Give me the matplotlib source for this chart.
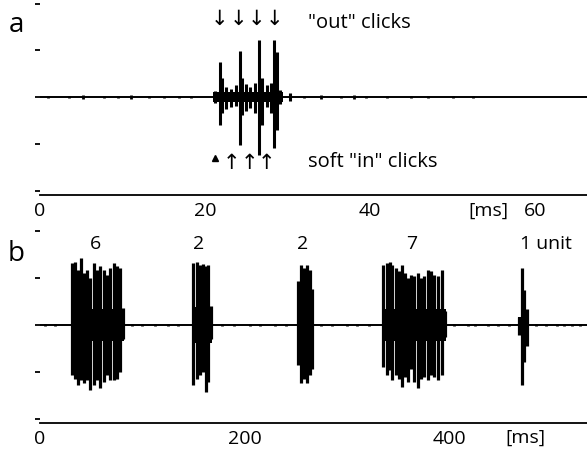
import matplotlib
matplotlib.use("Agg")
import matplotlib.pyplot as plt

plt.rcParams['font.family'] = ['Open Sans', 'DejaVu Sans']

# ---------------- Panel a data (time in ms, amplitude in arbitrary units) -------------
a_xticks = [0, 20, 40, 60]
a_xticklabels = ['0', '20', '40', '60']
a_click_t = [21.2, 21.8, 22.1, 22.6, 23.2, 23.7, 24.2, 24.5, 25.0, 25.5, 26.0, 26.5, 26.9, 27.5, 28.0, 28.4, 28.7, 29.1, 30.3]
a_click_top = [0.12, 0.75, 0.40, 0.22, 0.18, 0.25, 0.99, 0.40, 0.28, 0.21, 0.30, 1.21, 0.40, 0.25, 0.30, 1.21, 0.96, 0.15, 0.08]
a_click_bot = [-0.12, -0.60, -0.35, -0.25, -0.22, -0.20, -1.03, -0.39, -0.30, -0.24, -0.35, -1.24, -0.60, -0.22, -0.35, -1.09, -0.70, -0.15, -0.08]
a_core_t = [21.0, 29.4]
a_core_amp = 0.10
a_noise_t = [1.0, 3.5, 5.2, 7.8, 9.5, 11.0, 13.2, 15.0, 16.8, 18.3, 32.0, 34.0, 36.5, 38.0, 39.5, 42.0, 45.0, 47.0, 50.0, 52.5]
a_noise_amp = [0.03, 0.025, 0.035, 0.03, 0.025, 0.035, 0.03, 0.025, 0.03, 0.025, 0.03, 0.035, 0.03, 0.035, 0.03, 0.025, 0.03, 0.025, 0.03, 0.025]
a_out_arrow_t = [21.7, 24.1, 26.2, 28.4]
a_in_arrow_t = [23.2, 25.4, 27.4]
a_in_head_t = [21.2]

# ---------------- Panel b data -------------
b_xticks = [0, 200, 400]
b_xticklabels = ['0', '200', '400']
b_spike_t = [31.3, 34.5, 37.1, 40.4, 43.0, 45.9, 49.2, 52.5, 55.7, 59.0, 62.2, 65.5, 68.8, 72.0, 75.3, 78.5, 81.1,
             149.9, 153.2, 156.4, 159.6, 162.0, 164.5, 167.2,
             252.2, 254.8, 258.1, 261.3, 263.9, 265.9,
             335.6, 338.9, 342.1, 344.4, 347.7, 350.9, 353.6, 356.8, 360.0, 362.7, 365.9, 369.2, 372.4, 375.7,
             379.0, 382.2, 385.4, 388.8, 392.7, 395.9,
             468.2, 470.8, 473.4, 475.7]
b_spike_top = [1.32, 1.35, 1.18, 1.42, 1.11, 1.18, 1.00, 1.32, 1.18, 1.25, 1.18, 1.07, 1.21, 1.32, 1.25, 1.21, 0.37,
               1.32, 1.35, 1.28, 1.30, 1.25, 1.28, 0.40,
               0.93, 1.28, 1.21, 1.28, 1.18, 0.76,
               1.28, 1.32, 1.35, 1.28, 1.21, 1.14, 1.28, 1.11, 1.00, 1.07, 1.04, 1.11, 1.00, 1.04,
               1.18, 1.14, 1.07, 1.04, 1.18, 0.30,
               0.17, 1.21, 0.75, 0.33]
b_spike_bot = [-1.07, -1.14, -1.28, -1.17, -1.24, -1.17, -1.38, -1.28, -1.17, -1.35, -1.21, -1.07, -1.17, -1.17, -1.14, -1.00, -0.29,
               -1.28, -1.14, -1.07, -1.00, -1.42, -1.21, -0.30,
               -0.86, -1.24, -1.14, -1.24, -1.07, -0.93,
               -0.89, -1.07, -0.96, -1.17, -1.07, -1.14, -1.31, -1.11, -1.21, -0.93, -1.21, -1.35, -1.14, -1.11,
               -1.17, -1.07, -1.11, -1.17, -1.07, -0.26,
               -0.22, -1.28, -0.79, -0.44]
b_core_start = [30.0, 149.0, 251.0, 334.5, 467.0]
b_core_end = [82.0, 168.0, 267.0, 397.0, 477.0]
b_core_amp = [0.34, 0.38, 0.38, 0.34, 0.18]
b_noise_t = [5, 15, 90, 100, 112, 125, 135, 178, 190, 205, 215, 230, 240, 275, 285, 300, 310, 322,
             405, 418, 425, 438, 448, 458, 485, 495, 505, 512, 520, 528]
b_noise_amp = [0.03] * len(b_noise_t)
b_counts = ['6', '2', '2', '7', '1 unit']
b_count_t = [54.7, 155.4, 257.0, 363.6, 494.6]

# ---------------- Figure -------------
W, H = 587, 455
fig = plt.figure(figsize=(W / 100, H / 100), dpi=100)
ax_a = fig.add_axes([40 / W, 1 - 195 / H, 547 / W, 195 / H])
ax_b = fig.add_axes([40 / W, 1 - 423 / H, 547 / W, 197 / H])

def style(ax):
    for s in ['left', 'top', 'right']:
        ax.spines[s].set_visible(False)
    ax.spines['bottom'].set_linewidth(1.3)
    ax.set_yticks([-2, -1, 0, 1, 2])
    ax.set_yticklabels([])
    ax.tick_params(axis='y', length=3.5, width=1.3, direction='out')
    ax.tick_params(axis='x', length=0, pad=5, labelsize=14)

# Panel a
style(ax_a)
ax_a.set_xlim(0, 547 / 8.25)
ax_a.set_ylim(-2.096, 2.075)
ax_a.plot([0, 547 / 8.25], [0, 0], color='black', lw=1.4, zorder=2)
ax_a.vlines(a_noise_t, [-v for v in a_noise_amp], a_noise_amp, color='black', lw=2.0)
ax_a.fill_between(a_core_t, [-a_core_amp] * 2, [a_core_amp] * 2, color='black', lw=0)
ax_a.vlines(a_click_t, a_click_bot, a_click_top, color='black', lw=2.2)
ax_a.set_xticks(a_xticks)
ax_a.set_xticklabels(a_xticklabels)
for t in a_out_arrow_t:
    ax_a.text(t, 1.66, '\u2193', ha='center', va='center', fontsize=15, family=['DejaVu Sans'])
for t in a_in_arrow_t:
    ax_a.text(t, -1.42, '\u2191', ha='center', va='center', fontsize=15, family=['DejaVu Sans'])
ax_a.plot(a_in_head_t, [-1.30] * len(a_in_head_t), marker='^', ms=4.5, color='black', ls='none')
ax_a.text(32.5, 1.59, '"out" clicks', ha='left', va='center', fontsize=14.5)
ax_a.text(32.5, -1.39, 'soft "in" clicks', ha='left', va='center', fontsize=14.5)

# Panel b
style(ax_b)
ax_b.set_xlim(0, 547 / 1.023)
ax_b.set_ylim(-2.085, 2.106)
ax_b.plot([0, 547 / 1.023], [0, 0], color='black', lw=1.4, zorder=2)
ax_b.vlines(b_noise_t, [-v for v in b_noise_amp], b_noise_amp, color='black', lw=2.0)
for s, e, amp in zip(b_core_start, b_core_end, b_core_amp):
    ax_b.fill_between([s, e], [-amp, -amp], [amp, amp], color='black', lw=0)
ax_b.vlines(b_spike_t, b_spike_bot, b_spike_top, color='black', lw=2.3)
ax_b.set_xticks(b_xticks)
ax_b.set_xticklabels(b_xticklabels)
for lab, t in zip(b_counts, b_count_t):
    ax_b.text(t, 1.72, lab, ha='center', va='center', fontsize=14)

# [ms] labels in tick-label row
fig.text(488 / W, 1 - 211 / H, '[ms]', ha='center', va='center', fontsize=14)
fig.text(525 / W, 1 - 438 / H, '[ms]', ha='center', va='center', fontsize=14)

fig.text(16 / W, 1 - 25 / H, 'a', ha='center', va='center', fontsize=20)
fig.text(16 / W, 1 - 254 / H, 'b', ha='center', va='center', fontsize=20)

fig.savefig('out.png', dpi=100)
